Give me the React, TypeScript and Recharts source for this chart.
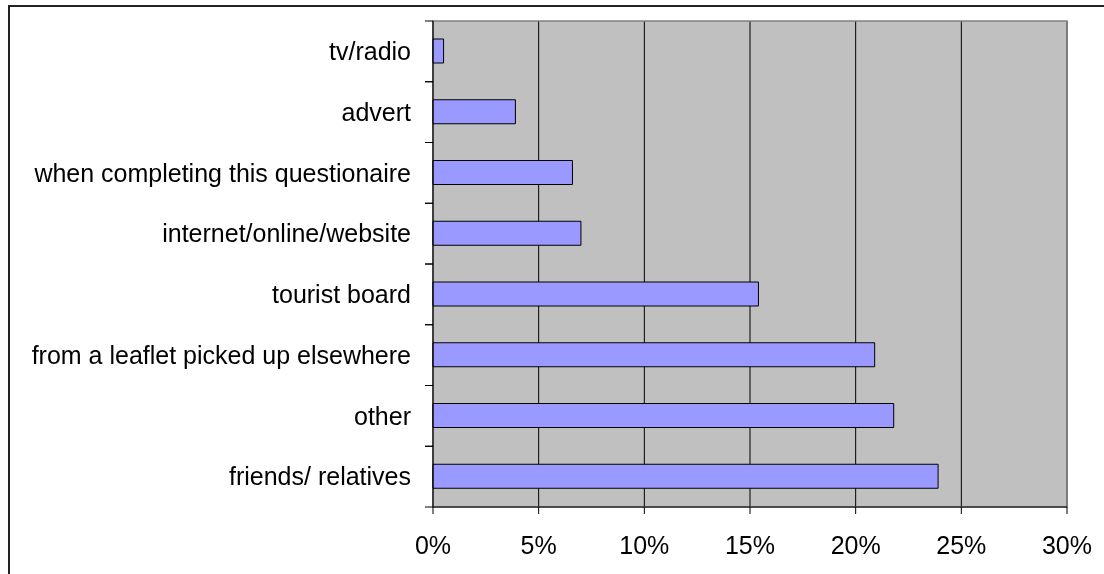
import {
  Bar,
  BarChart,
  CartesianGrid,
  ReferenceArea,
  XAxis,
  YAxis,
} from "recharts";

const categories = [
  "tv/radio",
  "advert",
  "when completing this questionaire",
  "internet/online/website",
  "tourist board",
  "from a leaflet picked up elsewhere",
  "other",
  "friends/ relatives",
];
const shares = [0.5, 3.9, 6.6, 7.0, 15.4, 20.9, 21.8, 23.9];
const xTicks = [0, 5, 10, 15, 20, 25, 30];

const data = categories.map((name, i) => ({ name, value: shares[i] }));

const CHART_W = 1094;
const CHART_H = 566;
const MARGIN = { top: 14, right: 37, left: 0, bottom: 0 };
const Y_AXIS_W = 423;
const X_AXIS_H = 66;
const PLOT_H = CHART_H - MARGIN.top - MARGIN.bottom - X_AXIS_H;
const BAND = PLOT_H / categories.length;
const FONT = "'Liberation Sans', Arial, sans-serif";

// label in the middle of the band, tick marks on the band edges (Excel style)
function CategoryTick(props: any) {
  const { y, payload } = props;
  const axisX = MARGIN.left + Y_AXIS_W;
  return (
    <g>
      <line x1={axisX - 8} x2={axisX} y1={y - BAND / 2} y2={y - BAND / 2} stroke="#000" />
      <line x1={axisX - 8} x2={axisX} y1={y + BAND / 2} y2={y + BAND / 2} stroke="#000" />
      <text
        x={axisX - 22}
        y={y}
        dy="0.35em"
        textAnchor="end"
        fill="#000"
        fontSize={25}
        fontFamily={FONT}
      >
        {payload.value}
      </text>
    </g>
  );
}

export default function App() {
  return (
    <div style={{ position: "relative", width: CHART_W, height: CHART_H }}>
      {/* outer chart frame, only its top and left edges fall inside the window */}
      <div
        style={{
          position: "fixed",
          left: 8,
          top: 5,
          width: 1200,
          height: 700,
          borderLeft: "2px solid #222",
          borderTop: "2px solid #222",
          pointerEvents: "none",
        }}
      />
      <div style={{ position: "absolute", left: 2, top: -1 }}>
        <BarChart
          width={CHART_W}
          height={CHART_H}
          data={data}
          layout="vertical"
          margin={MARGIN}
        >
          <CartesianGrid
            horizontal={false}
            vertical
            stroke="#000"
            fill="#C0C0C0"
            fillOpacity={1}
          />
          <XAxis
            type="number"
            domain={[0, 30]}
            ticks={xTicks}
            interval={0}
            tickFormatter={(v) => `${v}%`}
            height={X_AXIS_H}
            tickSize={7}
            tickMargin={22}
            stroke="#000"
            tick={{ fill: "#000", fontSize: 25, fontFamily: FONT }}
          />
          <YAxis
            type="category"
            dataKey="name"
            width={Y_AXIS_W}
            stroke="#000"
            tickLine={false}
            interval={0}
            tick={<CategoryTick />}
          />
          <ReferenceArea x1={0} x2={30} fill="none" stroke="#808080" strokeWidth={1.5} />
          <Bar
            dataKey="value"
            barSize={24}
            fill="#9999FF"
            stroke="#000"
            strokeWidth={1}
            isAnimationActive={false}
          />
        </BarChart>
      </div>
    </div>
  );
}
